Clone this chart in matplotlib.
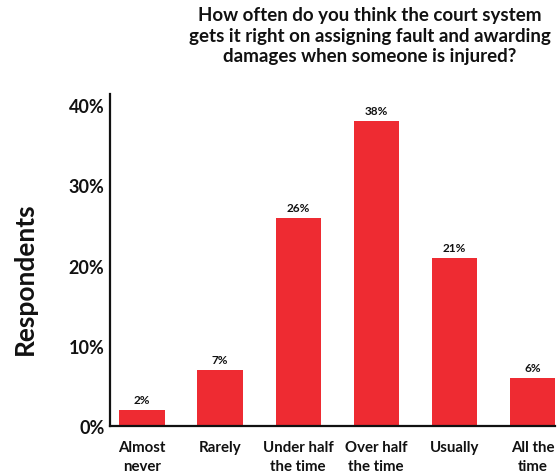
import matplotlib
matplotlib.use("Agg")
import matplotlib.pyplot as plt
from matplotlib.ticker import FuncFormatter

categories = ["Almost\nnever", "Rarely", "Under half\nthe time", "Over half\nthe time", "Usually", "All the\ntime"]
values = [2, 7, 26, 38, 21, 6]
yticks = [0, 10, 20, 30, 40]

plt.rcParams["font.family"] = ["Lato", "DejaVu Sans"]

fig = plt.figure(figsize=(5.59, 4.77), dpi=100)
ax = fig.add_axes([0.1968, 0.1048, 0.796, 0.696])

x = list(range(len(categories)))
bars = ax.bar(x, values, width=0.58, color="#EE2B32", zorder=2)
for xi, v in zip(x, values):
    ax.text(xi, v + 0.6, f"{v}%", ha="center", va="bottom", fontsize=8.5, fontweight="bold", color="#111111")

ax.set_xlim(-0.41, 5.29)
ax.set_ylim(0, 41.4)
ax.set_yticks(yticks)
ax.yaxis.set_major_formatter(FuncFormatter(lambda v, p: f"{int(v)}%"))
ax.set_xticks(x)
ax.set_xticklabels(categories, fontsize=10.8, fontweight="bold", linespacing=1.45)
for lab in ax.get_yticklabels():
    lab.set_fontsize(13)
    lab.set_fontweight("bold")
ax.tick_params(axis="both", length=0, colors="#111111")
ax.tick_params(axis="x", pad=10)
ax.tick_params(axis="y", pad=4)

for s in ["top", "right"]:
    ax.spines[s].set_visible(False)
for s in ["left", "bottom"]:
    ax.spines[s].set_linewidth(1.6)
    ax.spines[s].set_color("#111111")

fig.text(0.045, 0.415, "Respondents", rotation=90, ha="center", va="center", fontsize=19, fontweight="bold", color="#111111")
fig.text(0.662, 0.985, "How often do you think the court system\ngets it right on assigning fault and awarding\ndamages when someone is injured?",
         ha="center", va="top", fontsize=13.5, fontweight="bold", linespacing=1.25, color="#111111")

fig.savefig("out.png", dpi=100)
